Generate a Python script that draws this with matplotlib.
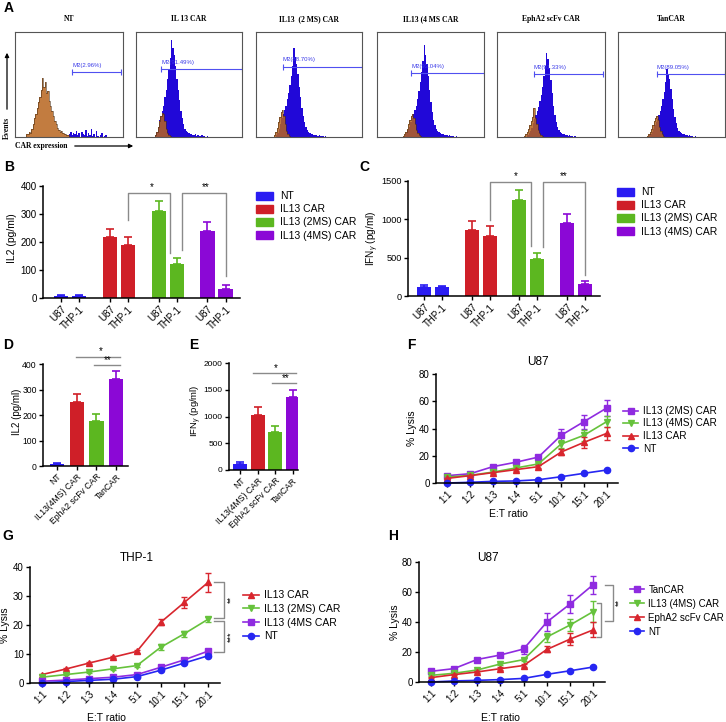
import numpy as np
import matplotlib
matplotlib.use('Agg')
import matplotlib.pyplot as plt
from matplotlib.patches import Patch, FancyArrowPatch

plt.rcParams['font.family'] = ['Liberation Sans', 'DejaVu Sans']
plt.rcParams['mathtext.fontset'] = 'custom'
plt.rcParams['mathtext.rm'] = 'Liberation Sans'
plt.rcParams['mathtext.it'] = 'Liberation Sans:italic'

W, H = 726, 722

# ---------------- data ----------------
# A: flow histograms (bin width 0.0125 on a 0..1 CAR expression scale)
flow_titles = ['NT', 'IL 13 CAR', 'IL13  (2 MS) CAR', 'IL13 (4 MS CAR', 'EphA2 scFv CAR', 'TanCAR']
flow_gate_labels = ['M2(2.96%)', 'M2(91.49%)', 'M2(88.70%)', 'M2(93.04%)', 'M2(91.33%)', 'M2(89.05%)']
flow_gate_x0 = [0.53, 0.24, 0.25, 0.32, 0.34, 0.36]
flow_gate_x1 = [0.98, 1.0, 1.0, 1.0, 0.98, 1.0]
flow_gate_y = [0.62, 0.65, 0.67, 0.61, 0.60, 0.60]
bin_w = 0.0125
blue_start = [0.50, 0.18, 0.19, 0.26, 0.28, 0.29]
blue_hist = [
    [0.03, 0.05, 0.02, 0.04, 0.03, 0.06, 0.02, 0.04, 0.0, 0.05, 0.03, 0.02, 0.07, 0.01,
     0.04, 0.02, 0.08, 0.01, 0.03, 0.0, 0.06, 0.01, 0.0, 0.02, 0.04, 0.0, 0.01, 0.02],
    [0.02, 0.05, 0.10, 0.16, 0.20, 0.25, 0.30, 0.38, 0.45, 0.55, 0.65, 0.75, 0.92, 0.85,
     0.78, 0.68, 0.55, 0.45, 0.35, 0.25, 0.18, 0.12, 0.08, 0.06, 0.05, 0.04, 0.03, 0.03,
     0.02, 0.02, 0.03, 0.01, 0.02, 0.01, 0.01, 0.02, 0.01, 0.01, 0.0, 0.01],
    [0.02, 0.04, 0.08, 0.12, 0.18, 0.22, 0.26, 0.30, 0.36, 0.42, 0.50, 0.58, 0.68, 0.85,
     0.76, 0.70, 0.60, 0.48, 0.38, 0.28, 0.20, 0.14, 0.10, 0.07, 0.05, 0.04, 0.03, 0.03,
     0.02, 0.02, 0.02, 0.01, 0.02, 0.01, 0.01, 0.01, 0.0, 0.01],
    [0.02, 0.04, 0.07, 0.10, 0.14, 0.18, 0.22, 0.26, 0.30, 0.36, 0.44, 0.52, 0.62, 0.72,
     0.88, 0.78, 0.70, 0.58, 0.45, 0.33, 0.24, 0.16, 0.11, 0.08, 0.06, 0.05, 0.04, 0.03,
     0.03, 0.02, 0.02, 0.02, 0.01, 0.02, 0.01, 0.01, 0.01, 0.0, 0.01],
    [0.02, 0.04, 0.06, 0.09, 0.13, 0.17, 0.21, 0.25, 0.29, 0.34, 0.40, 0.48, 0.58, 0.68,
     0.80, 0.74, 0.66, 0.54, 0.42, 0.30, 0.21, 0.14, 0.10, 0.07, 0.05, 0.04, 0.03, 0.03,
     0.02, 0.02, 0.01, 0.02, 0.01, 0.01, 0.0, 0.01],
    [0.02, 0.03, 0.05, 0.08, 0.11, 0.14, 0.17, 0.21, 0.25, 0.30, 0.36, 0.43, 0.52, 0.65,
     0.60, 0.55, 0.46, 0.36, 0.27, 0.19, 0.13, 0.09, 0.06, 0.05, 0.04, 0.03, 0.03, 0.02,
     0.02, 0.01, 0.02, 0.01, 0.01, 0.0, 0.01],
]
orange_start = [0.10, 0.18, 0.17, 0.24, 0.25, 0.27]
orange_hist = [
    [0.03, 0.03, 0.05, 0.04, 0.08, 0.12, 0.18, 0.22, 0.28, 0.33, 0.38, 0.45, 0.56, 0.48,
     0.52, 0.42, 0.44, 0.34, 0.30, 0.25, 0.20, 0.15, 0.12, 0.09, 0.07, 0.05, 0.06, 0.04,
     0.03, 0.03, 0.02, 0.02],
    [0.02, 0.05, 0.10, 0.15, 0.20, 0.23, 0.22, 0.15, 0.08, 0.04, 0.02, 0.01],
    [0.02, 0.05, 0.09, 0.14, 0.19, 0.24, 0.26, 0.20, 0.12, 0.06, 0.03, 0.01],
    [0.01, 0.03, 0.05, 0.08, 0.12, 0.16, 0.20, 0.22, 0.18, 0.12, 0.07, 0.04, 0.02, 0.01],
    [0.01, 0.03, 0.05, 0.08, 0.11, 0.15, 0.19, 0.28, 0.18, 0.12, 0.07, 0.04, 0.02, 0.01],
    [0.01, 0.03, 0.05, 0.08, 0.11, 0.15, 0.18, 0.20, 0.16, 0.10, 0.06, 0.03, 0.01],
]

# B, C: cytokines, each group against U87 and THP-1
groups_bc = ['NT', 'IL13 CAR', 'IL13 (2MS) CAR', 'IL13 (4MS) CAR']
targets = ['U87', 'THP-1']
il2_b = [8, 8, 217, 190, 310, 121, 241, 33]
il2_b_err = [4, 4, 29, 29, 35, 23, 32, 12]
ifn_c = [117, 113, 857, 787, 1252, 483, 957, 152]
ifn_c_err = [22, 22, 126, 122, 131, 82, 113, 48]

# D, E
groups_de = ['NT', 'IL13(4MS) CAR', 'EphA2 scFv CAR', 'TanCAR']
il2_d = [9, 251, 178, 341]
il2_d_err = [4, 32, 26, 30]
ifn_e = [112, 1022, 704, 1358]
ifn_e_err = [35, 150, 112, 130]

# F, G, H: cytotoxicity
ratios = ['1:1', '1:2', '1:3', '1:4', '5:1', '10:1', '15:1', '20:1']

f_labels = ['IL13 (2MS) CAR', 'IL13 (4MS) CAR', 'IL13 CAR', 'NT']
f_vals = [[5.4, 6.8, 12, 15.2, 19, 35, 45, 55],
          [4.4, 5.6, 8, 11, 14, 28.6, 35, 45],
          [3.4, 5.4, 7.6, 9.8, 12, 22.7, 29.8, 36.4],
          [0, 0.5, 1.2, 1.5, 2.4, 4.6, 7.1, 9.5]]
f_errs = [[0.8, 0.8, 1, 1, 1.2, 5, 5, 5.6],
          [0.6, 0.6, 0.8, 0.8, 1, 3, 4, 4],
          [0.6, 0.6, 0.8, 0.8, 1, 2.5, 4, 4.5],
          [0.3, 0.3, 0.3, 0.3, 0.4, 0.5, 0.6, 0.6]]

g_labels = ['IL13 CAR', 'IL13 (2MS) CAR', 'IL13 (4MS CAR', 'NT']
g_vals = [[2.9, 4.8, 6.9, 8.9, 10.9, 20.9, 27.8, 34.7],
          [2, 2.9, 3.8, 4.9, 6, 12.3, 17, 22],
          [0.6, 1, 1.5, 2, 2.9, 5.4, 8, 11],
          [0, 0.5, 0.9, 1.3, 2.2, 4.4, 6.9, 9.4]]
g_errs = [[0.3, 0.3, 0.3, 0.4, 0.5, 1, 2, 3.2],
          [0.2, 0.2, 0.3, 0.3, 0.4, 1, 1, 0.9],
          [0.2, 0.2, 0.2, 0.3, 0.3, 0.6, 0.5, 0.8],
          [0.1, 0.1, 0.1, 0.2, 0.2, 0.3, 0.3, 0.4]]

h_labels = ['TanCAR', 'IL13 (4MS) CAR', 'EphA2 scFv CAR', 'NT']
h_vals = [[7.1, 8.9, 15, 18, 22, 40, 52, 65],
          [4.4, 5.8, 8, 12, 14.9, 30, 38, 47],
          [2.9, 4.9, 6.7, 8.9, 11, 21.7, 28.6, 34.8],
          [0, 0.7, 1.1, 1.6, 2.4, 5.1, 7.5, 10]]
h_errs = [[0.8, 0.8, 1, 1, 3, 6, 6, 6],
          [0.6, 0.6, 0.8, 0.8, 1, 3, 4, 7],
          [0.5, 0.5, 0.7, 0.8, 1, 2, 4, 5],
          [0.3, 0.3, 0.3, 0.3, 0.4, 0.5, 0.6, 0.6]]

# ---------------- styles ----------------
c_blue = '#2a1cf2'
c_red = '#cf1f28'
c_green = '#5cb720'
c_purple = '#8b08d6'
l_purple = '#8f2be0'
l_green = '#66c23c'
l_red = '#d8262e'
l_blue = '#2626f2'
grey = '#8a8a8a'

fig = plt.figure(figsize=(W / 100, H / 100), dpi=100)


def rect(x0, y0, x1, y1):
    return [x0 / W, 1 - y1 / H, (x1 - x0) / W, (y1 - y0) / H]


def fpos(x, y):
    return x / W, 1 - y / H


def prism(ax, ylim, yticks, size=7):
    for s in ['top', 'right']:
        ax.spines[s].set_visible(False)
    for s in ['left', 'bottom']:
        ax.spines[s].set_linewidth(1.1)
    ax.set_ylim(*ylim)
    ax.set_yticks(yticks)
    ax.tick_params(labelsize=size, length=3, width=1, pad=1.5)


def ftext(x, y, s, **kw):
    fig.text(*fpos(x, y), s, **kw)


# ---------------- A ----------------
flow_boxes = [(15, 123), (136, 242), (256, 362), (377, 484), (497, 605), (618, 725)]
for i, (x0, x1) in enumerate(flow_boxes):
    ax = fig.add_axes(rect(x0, 32, x1, 137))
    bh = np.array(blue_hist[i])
    be = blue_start[i] + bin_w * np.arange(len(bh) + 1)
    ax.stairs(bh, be, fill=True, color='#2108d8')
    oh = np.array(orange_hist[i])
    oe = orange_start[i] + bin_w * np.arange(len(oh) + 1)
    ax.stairs(oh, oe, fill=True, color='#b8651e', alpha=0.85)
    ax.stairs(oh, oe, color='#4a2d12', lw=0.4)
    ax.plot([flow_gate_x0[i], flow_gate_x1[i]], [flow_gate_y[i]] * 2, color='#5050f0', lw=0.8,
            marker='|', ms=4, mew=0.8)
    ax.text(flow_gate_x0[i], flow_gate_y[i] + 0.04, flow_gate_labels[i], fontsize=4.3,
            color='#3a3ae8', va='bottom')
    ax.set_xlim(0, 1)
    ax.set_ylim(0, 1)
    ax.set_xticks([])
    ax.set_yticks([])
    for s in ax.spines.values():
        s.set_linewidth(0.8)
        s.set_color('#555555')
    ftext((x0 + x1) / 2, 19, flow_titles[i], family='Liberation Serif', weight='bold',
          fontsize=5.5, ha='center', va='center')

fig.add_artist(FancyArrowPatch(fpos(7, 112), fpos(7, 50), transform=fig.transFigure,
                               arrowstyle='-|>', mutation_scale=6, lw=0.9, color='k'))
fig.add_artist(FancyArrowPatch(fpos(72, 146), fpos(136, 146), transform=fig.transFigure,
                               arrowstyle='-|>', mutation_scale=6, lw=0.9, color='k'))
ftext(7, 128, 'Events', family='Liberation Serif', weight='bold', fontsize=5.5, rotation=90,
      ha='center', va='center')
ftext(15, 146, 'CAR expression', family='Liberation Serif', weight='bold', fontsize=5.5,
      ha='left', va='center')

# ---------------- B, C ----------------
bar_cols = [c_blue, c_blue, c_red, c_red, c_green, c_green, c_purple, c_purple]


def grouped(ax, vals, errs, gap):
    pos = [g * gap + k for g in range(4) for k in range(2)]
    ax.bar(pos, vals, width=0.78, color=bar_cols)
    for p, v, e, c in zip(pos, vals, errs, bar_cols):
        ax.errorbar([p], [v], yerr=[[0], [e]], color=c, capsize=3, lw=1.2, capthick=1.2)
    ax.set_xticks(pos)
    ax.set_xticklabels(targets * 4, rotation=45, ha='right', rotation_mode='anchor')
    return pos


axB = fig.add_axes(rect(43, 186, 240, 298))
prism(axB, (0, 400), [0, 100, 200, 300, 400])
grouped(axB, il2_b, il2_b_err, 2.7)
axB.set_xlim(-1.0, 9.9)
for xs, ys in [([3.72, 3.72, 6.05, 6.05], [278, 375, 375, 160]),
               ([6.7, 6.7, 9.1, 9.1], [172, 375, 375, 77])]:
    axB.plot(xs, ys, color=grey, lw=1, clip_on=False)
axB.text(5.0, 380, '*', fontsize=7, ha='center', va='bottom')
axB.text(8.0, 380, '**', fontsize=7, ha='center', va='bottom')
axB.legend(handles=[Patch(color=c) for c in [c_blue, c_red, c_green, c_purple]], labels=groups_bc,
           loc='upper left', bbox_to_anchor=fpos(251, 186), bbox_transform=fig.transFigure,
           frameon=False, fontsize=7.5, borderpad=0, handlelength=1.6, handleheight=0.8,
           labelspacing=0.3, handletextpad=0.7)
ftext(12, 238, 'IL2 (pg/ml)', fontsize=7.5, rotation=90, ha='center', va='center')

axC = fig.add_axes(rect(408, 181, 600, 296))
prism(axC, (0, 1500), [0, 500, 1000, 1500], size=6.6)
grouped(axC, ifn_c, ifn_c_err, 2.65)
axC.tick_params(axis='x', labelsize=7)
axC.set_xlim(-0.9, 9.8)
for xs, ys in [([3.65, 3.65, 5.95, 5.95], [990, 1483, 1483, 650]),
               ([6.6, 6.6, 8.95, 8.95], [640, 1483, 1483, 275])]:
    axC.plot(xs, ys, color=grey, lw=1, clip_on=False)
axC.text(5.1, 1500, '*', fontsize=7, ha='center', va='bottom')
axC.text(7.8, 1500, '**', fontsize=7, ha='center', va='bottom')
axC.legend(handles=[Patch(color=c) for c in [c_blue, c_red, c_green, c_purple]], labels=groups_bc,
           loc='upper left', bbox_to_anchor=fpos(612, 182), bbox_transform=fig.transFigure,
           frameon=False, fontsize=7.5, borderpad=0, handlelength=1.6, handleheight=0.8,
           labelspacing=0.3, handletextpad=0.7)
ftext(373, 238, 'IFN$_{\\gamma}$ (pg/ml)', fontsize=7.2, rotation=90, ha='center', va='center')

# ---------------- D, E ----------------
de_cols = [c_blue, c_red, c_green, c_purple]


def simple(ax, vals, errs, width):
    pos = np.arange(4)
    ax.bar(pos, vals, width=width, color=de_cols)
    for p, v, e, c in zip(pos, vals, errs, de_cols):
        ax.errorbar([p], [v], yerr=[[0], [e]], color=c, capsize=3, lw=1.2, capthick=1.2)
    ax.set_xticks(pos)
    ax.set_xticklabels(groups_de, rotation=45, ha='right', rotation_mode='anchor')


axD = fig.add_axes(rect(43, 364, 128, 466))
prism(axD, (0, 400), [0, 100, 200, 300, 400], size=6.2)
simple(axD, il2_d, il2_d_err, 0.72)
axD.set_xlim(-0.71, 3.6)
axD.plot([0.97, 3.2], [428, 428], color=grey, lw=1, clip_on=False)
axD.plot([1.9, 3.2], [395, 395], color=grey, lw=1, clip_on=False)
axD.text(2.2, 430, '*', fontsize=7, ha='center', va='bottom')
axD.text(2.55, 397, '**', fontsize=7, ha='center', va='bottom')
ftext(17, 412, 'IL2 (pg/ml)', fontsize=7, rotation=90, ha='center', va='center')

axE = fig.add_axes(rect(229, 363, 298, 470))
prism(axE, (0, 2000), [0, 500, 1000, 1500, 2000], size=6.0)
simple(axE, ifn_e, ifn_e_err, 0.79)
axE.tick_params(axis='x', labelsize=6.2)
axE.set_xlim(-0.65, 3.3)
axE.plot([0.73, 3.16], [1807, 1807], color=grey, lw=1, clip_on=False)
axE.plot([1.8, 3.16], [1620, 1620], color=grey, lw=1, clip_on=False)
axE.text(2.0, 1815, '*', fontsize=7, ha='center', va='bottom')
axE.text(2.6, 1628, '**', fontsize=7, ha='center', va='bottom')
ftext(196, 411, 'IFN$_{\\gamma}$ (pg/ml)', fontsize=6.8, rotation=90, ha='center', va='center')

# ---------------- F, G, H ----------------


def lysis(ax, vals, errs, labels, colors, markers, ylim, yticks):
    prism(ax, ylim, yticks)
    x = np.arange(len(ratios))
    hs = []
    for v, e, lab, c, m in zip(vals, errs, labels, colors, markers):
        ax.errorbar(x, v, yerr=e, fmt='none', ecolor=c, capsize=2.5, lw=1, capthick=1)
        h, = ax.plot(x, v, color=c, marker=m, ms=4.5, lw=1.2, label=lab, clip_on=False)
        hs.append(h)
    ax.set_xlim(-0.5, 7.5)
    ax.set_xticks(x)
    ax.set_xticklabels(ratios, rotation=45, ha='right', rotation_mode='anchor')
    return hs


axF = fig.add_axes(rect(436, 374, 618, 483))
hF = lysis(axF, f_vals, f_errs, f_labels, [l_purple, l_green, l_red, l_blue],
           ['s', 'v', '^', 'o'], (0, 80), [0, 20, 40, 60, 80])
axF.legend(handles=hF, loc='upper left', bbox_to_anchor=fpos(618, 401), bbox_transform=fig.transFigure,
           frameon=False, fontsize=7.2, borderpad=0, handlelength=1.5, labelspacing=0.25,
           handletextpad=0.5)
ftext(538, 362, 'U87', fontsize=8.5, ha='center', va='center')
ftext(412, 428, '% Lysis', fontsize=7.5, rotation=90, ha='center', va='center')
ftext(508, 514, 'E:T ratio', fontsize=7.5, ha='center', va='center')

axG = fig.add_axes(rect(30, 567, 220, 683))
hG = lysis(axG, g_vals, g_errs, g_labels, [l_red, l_green, l_purple, l_blue],
           ['^', 'v', 's', 'o'], (0, 40), [0, 10, 20, 30, 40])
for y0, y1 in [(35, 22.5), (21.3, 10.6)]:
    axG.plot([7.25, 7.67, 7.67, 7.25], [y0, y0, y1, y1], color=grey, lw=1, clip_on=False)
axG.text(7.95, 28.7, '**', fontsize=6.5, rotation=90, ha='center', va='center')
axG.text(7.95, 16, '***', fontsize=6.5, rotation=90, ha='center', va='center')
axG.legend(handles=hG, loc='upper left', bbox_to_anchor=fpos(238, 585), bbox_transform=fig.transFigure,
           frameon=False, fontsize=7.5, borderpad=0, handlelength=1.5, labelspacing=0.35,
           handletextpad=0.5)
ftext(137, 558, 'THP-1', fontsize=8.5, ha='center', va='center')
ftext(5, 625, '% Lysis', fontsize=7.5, rotation=90, ha='center', va='center')
ftext(106, 718, 'E:T ratio', fontsize=7.5, ha='center', va='center')

axH = fig.add_axes(rect(419, 562, 605, 682))
hH = lysis(axH, h_vals, h_errs, h_labels, [l_purple, l_green, l_red, l_blue],
           ['s', 'v', '^', 'o'], (0, 80), [0, 20, 40, 60, 80])
axH.plot([7.49, 7.84, 7.84, 7.49], [65, 65, 41, 41], color=grey, lw=1, clip_on=False)
axH.plot([7.14, 7.32, 7.32, 7.14], [52.5, 52.5, 30, 30], color=grey, lw=1, clip_on=False)
axH.text(8.1, 53, '**', fontsize=6.5, rotation=90, ha='center', va='center')
axH.legend(handles=hH, loc='upper left', bbox_to_anchor=fpos(625, 580), bbox_transform=fig.transFigure,
           frameon=False, fontsize=7.0, borderpad=0, handlelength=1.5, labelspacing=0.4,
           handletextpad=0.4)
ftext(488, 558, 'U87', fontsize=8.5, ha='center', va='center')
ftext(395, 622, '% Lysis', fontsize=7.5, rotation=90, ha='center', va='center')
ftext(500, 718, 'E:T ratio', fontsize=7.5, ha='center', va='center')

# panel letters
for lab, x, y in [('A', 4, 8), ('B', 4, 167), ('C', 359, 167), ('D', 3, 345), ('E', 189, 345),
                  ('F', 407, 345), ('G', 2, 536), ('H', 388, 536)]:
    ftext(x, y, lab, fontsize=10, weight='bold', ha='left', va='center')

fig.savefig('out.png', dpi=100)
